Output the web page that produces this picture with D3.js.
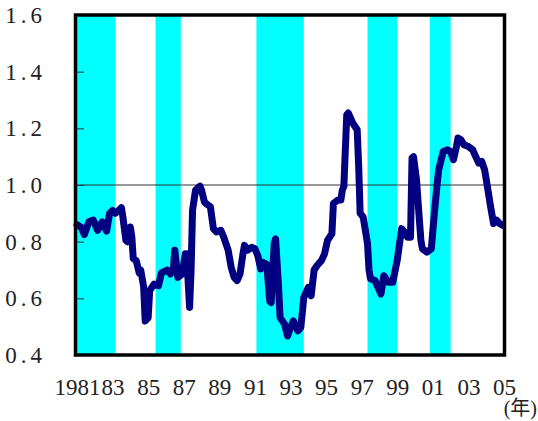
<!DOCTYPE html>
<html>
<head>
<meta charset="utf-8">
<script src="https://cdn.jsdelivr.net/npm/d3@7"></script>
<style>
  body { margin: 0; background: #fff; }
</style>
</head>
<body>
<svg id="svg" width="538" height="421"></svg>
<script>
// Series (monthly readings)
const months = [
  '1981-01','1981-04','1981-06','1981-09','1981-12','1982-03','1982-06','1982-09','1982-11',
  '1983-01','1983-03','1983-07','1983-08','1983-10','1983-11','1984-01','1984-02','1984-03',
  '1984-05','1984-07','1984-08','1984-10','1984-11','1985-01','1985-02','1985-05','1985-08',
  '1985-10','1986-02','1986-04','1986-06','1986-07','1986-09','1986-12','1987-02','1987-03',
  '1987-05','1987-06','1987-07','1987-09','1987-12','1988-01','1988-03','1988-04','1988-07',
  '1988-09','1988-11','1989-02','1989-04','1989-07','1989-09','1989-11','1990-01','1990-03',
  '1990-05','1990-06','1990-08','1990-11','1991-01','1991-03','1991-05','1991-06','1991-09',
  '1991-11','1991-12','1992-02','1992-03','1992-05','1992-06','1992-09','1992-11','1993-01',
  '1993-03','1993-06','1993-08','1993-10','1994-01','1994-03','1994-05','1994-07','1994-10',
  '1994-12','1995-02','1995-05','1995-06','1995-09','1995-11','1995-12','1996-01','1996-03',
  '1996-04','1996-07','1996-10','1996-11','1996-12','1997-02','1997-05','1997-06','1997-07',
  '1997-10','1997-12','1998-02','1998-04','1998-07','1998-10','1999-01','1999-04','1999-06',
  '1999-08','1999-10','1999-11','1999-12','2000-02','2000-03','2000-05','2000-06','2000-09',
  '2000-12','2001-02','2001-04','2001-05','2001-08','2001-11','2002-01','2002-03','2002-05',
  '2002-06','2002-08','2002-10','2003-01','2003-04','2003-05','2003-08','2003-10','2003-12',
  '2004-02','2004-04','2004-06','2004-08','2004-10','2004-12'
];
const values = [
  0.86, 0.85, 0.825, 0.87, 0.876, 0.84, 0.87, 0.837, 0.90,
  0.91, 0.90, 0.92, 0.887, 0.805, 0.80, 0.852, 0.816, 0.74,
  0.733, 0.69, 0.70, 0.64, 0.52, 0.532, 0.627, 0.65, 0.645,
  0.69, 0.70, 0.686, 0.70, 0.77, 0.674, 0.686, 0.757, 0.757,
  0.568, 0.70, 0.911, 0.982, 0.996, 0.982, 0.94, 0.935, 0.923,
  0.846, 0.834, 0.84, 0.816, 0.77, 0.71, 0.674, 0.663, 0.686,
  0.757, 0.787, 0.77, 0.78, 0.775, 0.751, 0.704, 0.728, 0.72,
  0.59, 0.585, 0.793, 0.81, 0.639, 0.532, 0.509, 0.467, 0.497,
  0.52, 0.485, 0.497, 0.603, 0.639, 0.609, 0.70, 0.716, 0.734,
  0.757, 0.805, 0.828, 0.935, 0.947, 0.947, 0.982, 0.994, 1.248,
  1.254, 1.219, 1.195, 1.065, 0.90, 0.887, 0.793, 0.70, 0.669,
  0.663, 0.639, 0.615, 0.68, 0.657, 0.657, 0.734, 0.846, 0.834,
  0.816, 0.816, 1.095, 1.10, 1.018, 0.947, 0.805, 0.775, 0.763,
  0.775, 0.90, 1.006, 1.053, 1.118, 1.124, 1.118, 1.089, 1.136,
  1.166, 1.16, 1.142, 1.136, 1.124, 1.112, 1.077, 1.083, 1.053,
  0.988, 0.923, 0.864, 0.876, 0.864, 0.858
];

// Shaded periods (recessions)
const bandStarts = ['1981-01', '1985-06', '1991-02', '1997-05', '2000-11'];
const bandEnds = ['1983-03', '1986-11', '1993-10', '1999-01', '2002-01'];

const xTickYears = [1981, 1983, 1985, 1987, 1989, 1991, 1993, 1995, 1997, 1999, 2001, 2003, 2005];
const yTicks = [0.4, 0.6, 0.8, 1.0, 1.2, 1.4, 1.6];

const serif = '"Liberation Serif", "Times New Roman", Times, serif';
const cjk = '"Liberation Serif", "Times New Roman", serif, "Noto Sans CJK JP"';
const parse = d3.timeParse('%Y-%m');
const svg = d3.select('#svg');

const x = d3.scaleTime()
  .domain([new Date(1981, 0, 1), new Date(2005, 0, 1)])
  .range([77, 504]);
const y = d3.scaleLinear().domain([0.4, 1.6]).range([355, 15]);

// bands
svg.append('g')
  .selectAll('rect')
  .data(d3.zip(bandStarts, bandEnds))
  .enter()
  .append('rect')
  .attr('x', (d) => x(parse(d[0])))
  .attr('width', (d) => x(parse(d[1])) - x(parse(d[0])))
  .attr('y', y(1.6))
  .attr('height', y(0.4) - y(1.6))
  .attr('fill', '#00ffff');

// 1.0 reference line
svg.append('line')
  .attr('x1', x.range()[0])
  .attr('x2', x.range()[1])
  .attr('y1', y(1.0))
  .attr('y2', y(1.0))
  .attr('stroke', '#333')
  .attr('stroke-width', 1.2);

// y axis (ticks inside, labels left)
const yAxis = svg.append('g')
  .attr('transform', `translate(${x.range()[0]},0)`)
  .call(d3.axisLeft(y).tickValues(yTicks).tickSize(-7).tickPadding(31).tickFormat(d3.format('.1f')));
yAxis.select('.domain').remove();
yAxis.attr('font-family', serif);
yAxis.selectAll('line').attr('stroke', '#333');
yAxis.selectAll('text')
  .style('font-family', serif)
  .style('font-size', '23px')
  .attr('letter-spacing', 4)
  .attr('fill', '#222');

// x axis labels
const xAxis = svg.append('g')
  .attr('transform', `translate(0,${y(0.4)})`)
  .call(d3.axisBottom(x)
    .tickValues(xTickYears.map((yr) => new Date(yr, 0, 1)))
    .tickSize(0)
    .tickFormat((d) => (d.getFullYear() === 1981 ? '1981' : d3.timeFormat('%y')(d))));
xAxis.select('.domain').remove();
xAxis.attr('font-family', serif);
xAxis.selectAll('text')
  .attr('dy', null)
  .attr('y', 40)
  .style('font-family', serif)
  .style('font-size', '23px')
  .attr('fill', '#222');

// unit label
svg.append('text')
  .attr('x', 537)
  .attr('y', 415)
  .attr('text-anchor', 'end')
  .style('font-family', cjk)
  .style('font-size', '20px')
  .attr('fill', '#222')
  .text('(年)');

// data line
const series = months.map((m, i) => ({ date: parse(m), value: values[i] }));
svg.append('path')
  .datum(series)
  .attr('fill', 'none')
  .attr('stroke', '#000080')
  .attr('stroke-width', 7)
  .attr('stroke-linejoin', 'round')
  .attr('stroke-linecap', 'round')
  .attr('d', d3.line().x((d) => x(d.date)).y((d) => y(d.value)));

// frame
svg.append('rect')
  .attr('x', 75.5)
  .attr('y', 15)
  .attr('width', 429)
  .attr('height', 340)
  .attr('fill', 'none')
  .attr('stroke', '#000')
  .attr('stroke-width', 3.5);
</script>
</body>
</html>
